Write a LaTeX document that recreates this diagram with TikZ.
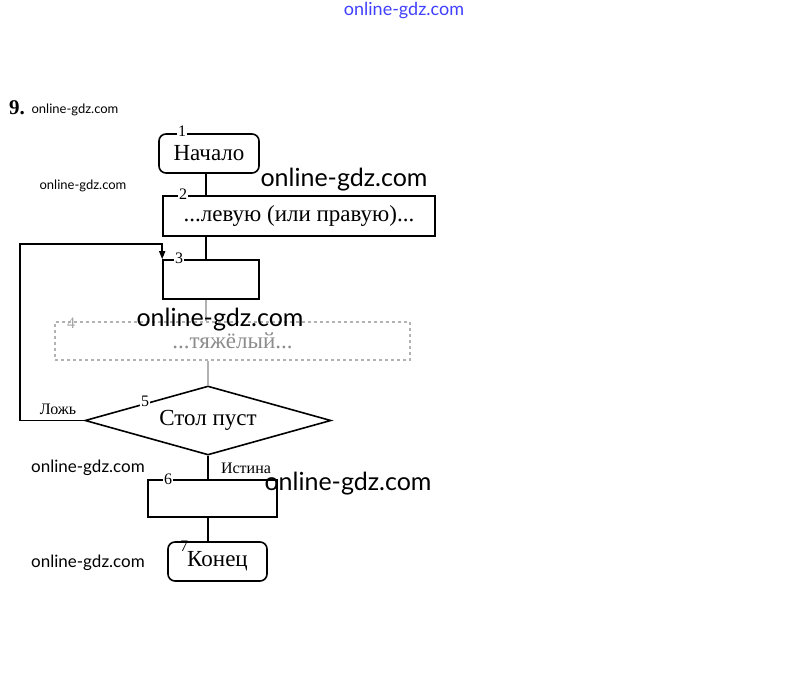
\documentclass[tikz,border=0pt]{standalone}
\usepackage{fontspec}
\setmainfont{Liberation Serif}
\newfontfamily\wmfont{Lato}
\usetikzlibrary{shapes.geometric,arrows.meta}

\begin{document}
\begin{tikzpicture}[x=1pt,y=-1pt,
    main/.style = {draw, line width=1.6pt, inner sep=0pt, font=\fontsize{23}{26}\selectfont},
    term/.style = {main, rounded corners=7pt},
    num/.style = {fill=white, inner sep=1pt, font=\fontsize{16}{18}\selectfont},
    tag/.style = {inner sep=0pt, font=\fontsize{16}{18}\selectfont},
    wm/.style = {inner sep=0pt, font=\wmfont\fontsize{#1}{#1}\selectfont}]
    \useasboundingbox (0,0) rectangle (808,676);
    % watermarks
    \node[wm=18, text=blue!75] (wtop) at (404,11) {online-gdz.com};
    \node[inner sep=0pt, font=\bfseries\fontsize{21}{24}\selectfont] (task) at (17,108) {9.};
    \node[wm=13] (w1) at (75,110) {online-gdz.com};
    \node[wm=13] (w2) at (83,186) {online-gdz.com};
    \node[wm=17] (w3) at (88,468) {online-gdz.com};
    \node[wm=17] (w4) at (88,563) {online-gdz.com};
    % blocks
    \node[term, minimum width=100pt, minimum height=39pt] (1) at (209,153.5) {Начало};
    \node[main, minimum width=272pt, minimum height=40pt] (2) at (299,216) {...левую (или правую)...};
    \node[main, minimum width=96pt, minimum height=39pt] (3) at (211,279.5) {};
    \node[main, draw=black!30, dashed, text=black!45, minimum width=355pt, minimum height=38pt] (4) at (232.5,341) {...тяжёлый...};
    \node[main, diamond, aspect=3.5, minimum width=246pt, minimum height=69pt] (5) at (208,420.5) {Стол пуст};
    \node[main, minimum width=129pt, minimum height=37pt] (6) at (212.5,498.5) {};
    \node[term, minimum width=99pt, minimum height=39pt] (7) at (217.5,561.5) {Конец};
    % numbers
    \node[num] (n1) at (182,131) {1};
    \node[num] (n2) at (183,194) {2};
    \node[num] (n3) at (179,258) {3};
    \node[num, fill=none, text=black!35] (n4) at (71,323) {4};
    \node[num] (n5) at (145,401) {5};
    \node[num] (n6) at (168,479) {6};
    \node[num, fill=none] (n7) at (184,546) {7};
    \node[tag] (no) at (58,409) {Ложь};
    \node[tag] (yes) at (246,468) {Истина};
    % connectors
    \coordinate (up) at (206,0);
    \draw[line width=1.6pt] (1.south -| up) -- (2.north -| up);
    \draw[line width=1.6pt] (2.south -| up) -- (3.north -| up);
    \draw[line width=1.2pt, black!30] (3.south -| up) -- (4.north -| up);
    \draw[line width=1.2pt, black!30] (4.south -| 5.north) -- (5.north);
    \draw[line width=1.6pt] (5.south) -- (6.north -| 5.south);
    \draw[line width=1.6pt] (6.south -| 5.south) -- (7.north -| 5.south);
    \coordinate (back) at (20,244);
    \draw[line width=1.6pt, -{Triangle[length=8pt,width=6pt]}] (5.west) -| (back) -| (3.north west);
    % watermarks on top
    \node[wm=25] (w5) at (344,180) {online-gdz.com};
    \node[wm=25] (w6) at (220,320) {online-gdz.com};
    \node[wm=25] (w7) at (348,484) {online-gdz.com};
\end{tikzpicture}
\end{document}
